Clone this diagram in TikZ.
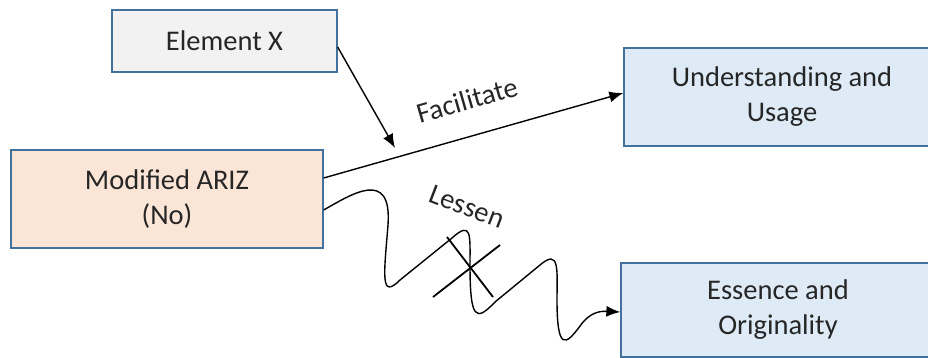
\documentclass[tikz,border=0pt]{standalone}
\usepackage{fontspec}
\setmainfont{Carlito}
\usetikzlibrary{arrows.meta}
\definecolor{bordc}{HTML}{41719C}
\definecolor{grayf}{HTML}{F2F2F2}
\definecolor{peachf}{HTML}{FBE5D6}
\definecolor{bluef}{HTML}{DEEBF7}
\begin{document}
\begin{tikzpicture}[x=1pt,y=-1pt,
  box/.style={draw=bordc,line width=1.3pt,align=center,inner sep=0pt,
    font=\fontsize{28.5}{35}\selectfont,text=black!85},
  conn/.style={line width=1.4pt,-{Latex[length=14pt,width=11pt]}},
  lbl/.style={font=\fontsize{28.5}{35}\selectfont,inner sep=0pt,text=black!85},
  crossline/.style={line width=1.8pt}]
\useasboundingbox (0,0) rectangle (928,358);
\clip (0,0) rectangle (928,358);
\node[box,fill=grayf,minimum width=225pt,minimum height=62pt] (ex) at (224.5,41) {Element X};
\node[box,fill=peachf,minimum width=312pt,minimum height=98pt] (ariz) at (167,199) {Modified ARIZ\\(No)};
\node[box,fill=bluef,minimum width=316pt,minimum height=98pt] (und) at (782,97) {Understanding and\\Usage};
\node[box,fill=bluef,minimum width=314pt,minimum height=94pt] (ess) at (778,310) {Essence and\\Originality};
\coordinate (tip) at (395,148);
\draw[conn] ([yshift=-6pt]ex.east) -- (tip);
\draw[conn] ([yshift=21pt]ariz.east) -- ([yshift=4pt]und.west);
\node[lbl,rotate=16] (fac) at (467,100) {Facilitate};
\draw[conn] ([yshift=-11pt]ariz.east)
  .. controls (352,194) and (392,168) .. (388,225)
  .. controls (384,275) and (380,300) .. (400,280)
  -- (452,238)
  .. controls (472,220) and (470,235) .. (470,265)
  .. controls (470,320) and (476,322) .. (495,302)
  -- (540,265)
  .. controls (560,248) and (557,270) .. (557,300)
  .. controls (557,352) and (566,345) .. (580,326)
  .. controls (590,312) and (600,311) .. ([yshift=-2pt]ess.west);
\node[lbl,rotate=-21] (les) at (467,207) {Lessen};
\draw[crossline] (447,237) -- (493,297);
\draw[crossline] (433,297) -- (500,245);
\end{tikzpicture}
\end{document}
